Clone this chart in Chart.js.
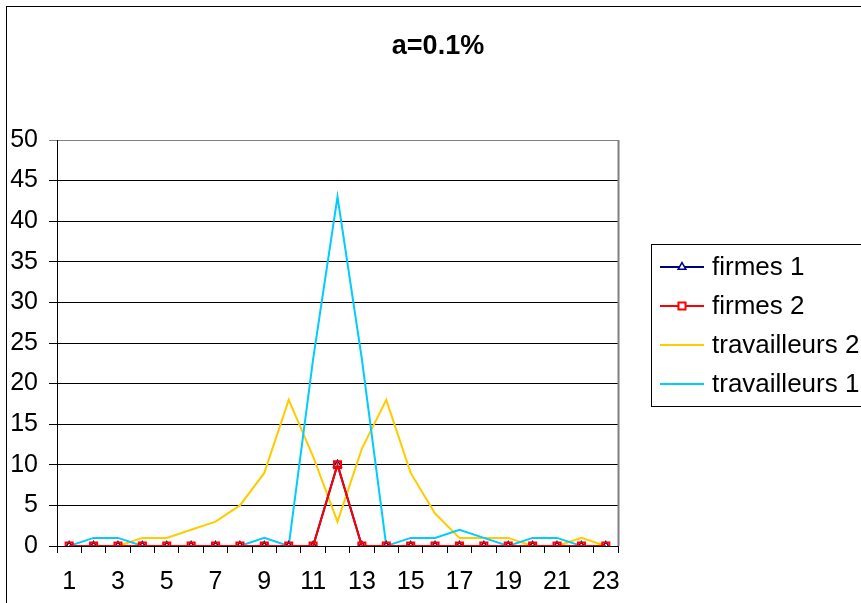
<!DOCTYPE html>
<html>
<head>
<meta charset="utf-8">
<script src="https://cdn.jsdelivr.net/npm/chart.js@4/dist/chart.umd.min.js"></script>
<style>
  html, body { margin: 0; padding: 0; background: #fff; }
  canvas { display: block; }
</style>
</head>
<body>
<canvas id="chart" width="861" height="603"></canvas>
<script>
// categories on the x axis
var categories = ['1', '2', '3', '4', '5', '6', '7', '8', '9', '10', '11', '12',
                  '13', '14', '15', '16', '17', '18', '19', '20', '21', '22', '23'];

// series values
var firmes1       = [0, 0, 0, 0, 0, 0, 0, 0, 0, 0, 0, 10, 0, 0, 0, 0, 0, 0, 0, 0, 0, 0, 0];
var firmes2       = [0, 0, 0, 0, 0, 0, 0, 0, 0, 0, 0, 10, 0, 0, 0, 0, 0, 0, 0, 0, 0, 0, 0];
var travailleurs2 = [0, 0, 0, 1, 1, 2, 3, 5, 9, 18, 11, 3, 12, 18, 9, 4, 1, 1, 1, 0, 0, 1, 0];
var travailleurs1 = [0, 1, 1, 0, 0, 0, 0, 0, 1, 0, 23, 43, 23, 0, 1, 1, 2, 1, 0, 1, 1, 0, 0];

// y axis range and step
var yMin = 0, yMax = 50, yStep = 5;

var navy = '#000080', red = '#ff0000', yellow = '#ffcc00', cyan = '#00ccff';
var font = "'Liberation Sans', Arial, sans-serif";

// white background, outer frame, title, plot border and legend box
var decorPlugin = {
  id: 'decor',
  beforeDraw: function (chart) {
    var ctx = chart.ctx;
    ctx.save();
    ctx.fillStyle = '#fff';
    ctx.fillRect(0, 0, chart.width, chart.height);
    ctx.strokeStyle = '#000';
    ctx.lineWidth = 1;
    ctx.strokeRect(6.5, 6.5, chart.width + 20, chart.height + 20);
    ctx.restore();
  },
  afterDraw: function (chart) {
    var ctx = chart.ctx, a = chart.chartArea;
    ctx.save();
    // title
    ctx.fillStyle = '#000';
    ctx.font = 'bold 27px ' + font;
    ctx.textAlign = 'center';
    ctx.textBaseline = 'middle';
    ctx.fillText('a=0.1%', 438, 47);

    // gray right edge of the plot
    ctx.strokeStyle = '#808080';
    ctx.lineWidth = 2;
    ctx.beginPath();
    ctx.moveTo(a.right + 0.5, a.top);
    ctx.lineTo(a.right + 0.5, a.bottom);
    ctx.stroke();

    // legend box
    ctx.strokeStyle = '#000';
    ctx.lineWidth = 1;
    ctx.strokeRect(651.5, 244.5, 300, 162);
    ctx.font = '26px ' + font;
    ctx.textAlign = 'left';
    chart.data.datasets.forEach(function (ds, i) {
      var y = 267 + i * 39;
      ctx.strokeStyle = ds.borderColor;
      ctx.lineWidth = 2;
      ctx.beginPath();
      ctx.moveTo(660, y);
      ctx.lineTo(704, y);
      ctx.stroke();
      if (ds.pointRadius > 0) {
        ctx.strokeStyle = ds.pointBorderColor;
        ctx.fillStyle = '#fff';
        ctx.lineWidth = ds.pointBorderWidth;
        Chart.helpers.drawPoint(ctx, {
          pointStyle: ds.pointStyle, radius: ds.pointRadius,
          borderWidth: ds.pointBorderWidth, rotation: 0
        }, 682, y);
      }
      ctx.fillStyle = '#000';
      ctx.fillText(ds.label, 712, y + 1);
    });
    ctx.restore();
  }
};

new Chart(document.getElementById('chart'), {
  type: 'line',
  data: {
    labels: categories,
    datasets: [
      {
        label: 'firmes 1',
        data: firmes1,
        borderColor: navy,
        borderWidth: 2,
        pointStyle: 'triangle',
        pointRadius: 4.5,
        pointBorderWidth: 1.5,
        pointBorderColor: navy,
        pointBackgroundColor: '#fff',
        tension: 0,
        order: 1
      },
      {
        label: 'firmes 2',
        data: firmes2,
        borderColor: red,
        borderWidth: 2,
        pointStyle: 'rect',
        pointRadius: 5,
        pointBorderWidth: 2,
        pointBorderColor: red,
        pointBackgroundColor: 'rgba(0,0,0,0)',
        tension: 0,
        order: 0
      },
      {
        label: 'travailleurs 2',
        data: travailleurs2,
        borderColor: yellow,
        borderWidth: 2,
        pointRadius: 0,
        tension: 0,
        order: 3
      },
      {
        label: 'travailleurs 1',
        data: travailleurs1,
        borderColor: cyan,
        borderWidth: 2,
        pointRadius: 0,
        tension: 0,
        order: 2
      }
    ]
  },
  options: {
    responsive: false,
    animation: false,
    layout: { padding: { top: 140, right: 243, bottom: 0, left: 0 } },
    scales: {
      x: {
        type: 'category',
        offset: true,
        afterFit: function (scale) { scale.height = 57; },
        grid: { offset: true, drawOnChartArea: false, drawTicks: true, tickLength: 7, color: '#000' },
        border: { color: '#000', width: 1 },
        ticks: {
          autoSkip: false,
          maxRotation: 0,
          padding: 14,
          color: '#000',
          font: { family: font, size: 25 },
          callback: function (v, i) { return i % 2 === 0 ? categories[i] : ''; }
        }
      },
      y: {
        min: yMin,
        max: yMax,
        afterFit: function (scale) { scale.width = 57; },
        grid: {
          drawTicks: true,
          tickLength: 8,
          color: function (c) { return c.tick && c.tick.value === yMax ? '#808080' : '#000'; }
        },
        border: { color: '#000', width: 1 },
        ticks: {
          stepSize: yStep,
          padding: 11,
          color: '#000',
          font: { family: font, size: 25 }
        }
      }
    },
    plugins: {
      legend: { display: false },
      title: { display: false },
      tooltip: { enabled: false }
    }
  },
  plugins: [decorPlugin]
});
</script>
</body>
</html>
